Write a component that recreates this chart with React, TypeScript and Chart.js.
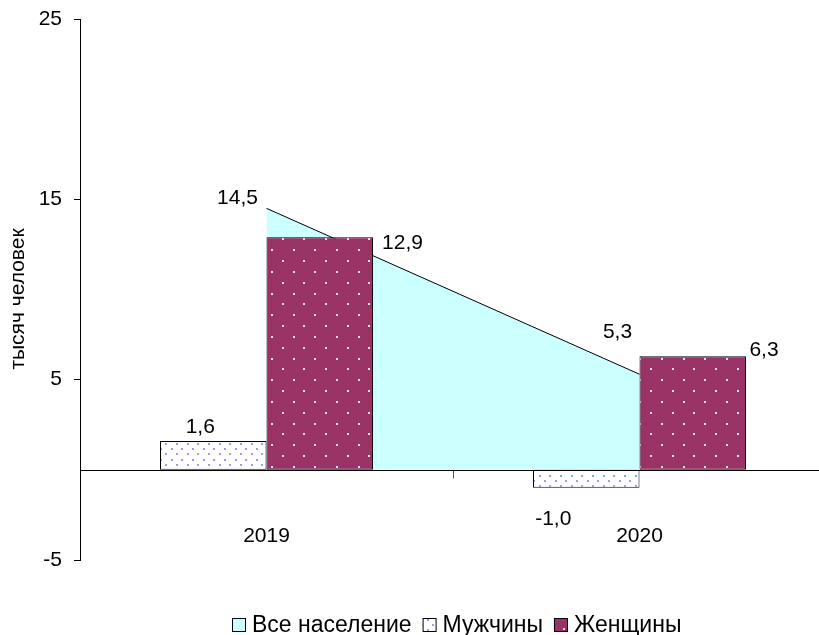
import React, { useEffect, useRef } from 'react';
import { Chart, registerables } from 'chart.js';

Chart.register(...registerables);

// ---- data ----
const categories = ['2019', '2020'];
const seriesNames = ['Все население', 'Мужчины', 'Женщины'];
const allPopulation = [14.5, 5.3];
const men = [1.6, -1.0];
const women = [12.9, 6.3];
const yMin = -5;
const yMax = 25;
const yStep = 10;
const yAxisTitle = 'тысяч человек';

const FONT = "'Liberation Sans', Arial, sans-serif";
const FONT_SIZE = 21;
const LEGEND_FONT_SIZE = 23;

const fmt = (v: number) => v.toFixed(1).replace('.', ',');

function makeDotPattern(bg: string, dot: string, period: number, dotSize: number) {
  const n = 3;
  const size = Math.round(period * n);
  const c = document.createElement('canvas');
  c.width = size;
  c.height = size;
  const g = c.getContext('2d')!;
  g.fillStyle = bg;
  g.fillRect(0, 0, size, size);
  g.fillStyle = dot;
  const p = size / n;
  for (let i = 0; i < n; i++) {
    for (let j = 0; j < n; j++) {
      g.fillRect(Math.round(i * p), Math.round(j * p), dotSize, dotSize);
      g.fillRect(Math.round(i * p + p / 2), Math.round(j * p + p / 2), dotSize, dotSize);
    }
  }
  return g.createPattern(c, 'repeat')!;
}

// label placement relative to each mark's anchor (dataset -> point -> [dx, dy])
const labelOffsets: number[][][] = [
  [[-29, -10], [-22, -42]],
  [[-13, -14], [-33, 31]],
  [[29.5, 6], [18, -6]],
];

const overlayPlugin = {
  id: 'overlay',
  afterDatasetsDraw(chart: any) {
    const { ctx, chartArea, scales } = chart;
    const x = scales.x;
    const y = scales.y;
    const y0 = Math.round(y.getPixelForValue(0)) + 0.5;
    ctx.save();
    ctx.strokeStyle = '#000';
    ctx.lineWidth = 1;
    ctx.beginPath();
    ctx.moveTo(chartArea.left, y0);
    ctx.lineTo(chartArea.right, y0);
    ctx.stroke();
    for (let i = 0; i < categories.length - 1; i++) {
      const xm = Math.round((x.getPixelForValue(i) + x.getPixelForValue(i + 1)) / 2) + 0.5;
      ctx.strokeStyle = '#555';
      ctx.beginPath();
      ctx.moveTo(xm, y0);
      ctx.lineTo(xm, y0 + 8);
      ctx.stroke();
    }
    ctx.fillStyle = '#000';
    ctx.font = `${FONT_SIZE}px ${FONT}`;
    ctx.textAlign = 'center';
    ctx.textBaseline = 'middle';
    categories.forEach((c, i) => ctx.fillText(c, x.getPixelForValue(i), y0 + 66));

    chart.data.datasets.forEach((ds: any, di: number) => {
      const meta = chart.getDatasetMeta(di);
      meta.data.forEach((el: any, j: number) => {
        const p = el.getProps(['x', 'y', 'width'], true);
        let ax = p.x;
        const ay = p.y;
        if (di === 2) ax = p.x + p.width / 2;
        const [dx, dy] = labelOffsets[di][j];
        ctx.fillText(fmt(ds.data[j]), ax + dx, ay + dy);
      });
    });

    ctx.translate(18, 299);
    ctx.rotate(-Math.PI / 2);
    ctx.fillText(yAxisTitle, 0, 0);
    ctx.restore();
  },
  afterDraw(chart: any) {
    // legend at the bottom, centred on the canvas
    const { ctx } = chart;
    const box = 14;
    const gap = 6;
    const spacing = 11;
    const cy = 625;
    ctx.save();
    ctx.font = `${LEGEND_FONT_SIZE}px ${FONT}`;
    ctx.textBaseline = 'middle';
    ctx.textAlign = 'left';
    const items = chart.data.datasets.map((ds: any) => ({
      text: ds.label,
      fill: ds.backgroundColor,
      w: ctx.measureText(ds.label).width,
    }));
    const total =
      items.reduce((s: number, it: any) => s + box + gap + it.w, 0) + spacing * (items.length - 1);
    let cx = Math.round(chart.width / 2 - total / 2);
    items.forEach((it: any) => {
      const top = Math.round(cy - box / 2);
      ctx.fillStyle = it.fill;
      ctx.fillRect(cx, top, box, box);
      ctx.strokeStyle = '#000';
      ctx.lineWidth = 1;
      ctx.strokeRect(cx + 0.5, top + 0.5, box - 1, box - 1);
      ctx.fillStyle = '#000';
      ctx.fillText(it.text, cx + box + gap, cy + 1);
      cx += box + gap + it.w + spacing;
    });
    ctx.restore();
  },
};

export default function App() {
  const ref = useRef<HTMLCanvasElement | null>(null);

  useEffect(() => {
    if (!ref.current) return;
    const menPattern = makeDotPattern('#ffffff', '#9999ff', 10.8, 2);
    const womenPattern = makeDotPattern('#993366', '#f3e4ec', 21.6, 2);

    const chart = new Chart(ref.current, {
      type: 'bar',
      data: {
        labels: categories,
        datasets: [
          {
            type: 'line',
            label: seriesNames[0],
            data: allPopulation,
            fill: 'origin',
            backgroundColor: '#ccffff',
            borderColor: '#000',
            borderWidth: 1,
            pointRadius: 0,
            tension: 0,
            order: 1,
          } as any,
          {
            type: 'bar',
            label: seriesNames[1],
            data: men,
            backgroundColor: menPattern,
            borderColor: '#000',
            borderWidth: 1,
            borderSkipped: false,
            categoryPercentage: 0.571,
            barPercentage: 1,
            order: 0,
          },
          {
            type: 'bar',
            label: seriesNames[2],
            data: women,
            backgroundColor: womenPattern,
            borderColor: '#000',
            borderWidth: 1,
            borderSkipped: false,
            categoryPercentage: 0.571,
            barPercentage: 1,
            order: 0,
          },
        ],
      },
      options: {
        animation: false,
        responsive: false,
        events: [],
        layout: { padding: { top: 19, left: 0, right: 88, bottom: 75 } },
        scales: {
          x: { display: false, offset: true },
          y: {
            min: yMin,
            max: yMax,
            ticks: {
              stepSize: yStep,
              color: '#000',
              font: { family: FONT, size: FONT_SIZE },
              padding: 12,
            },
            grid: { drawOnChartArea: false, color: '#000', tickLength: 6, lineWidth: 1 },
            border: { color: '#000', width: 1 },
            afterFit: (s: any) => {
              s.width = 80;
              s.paddingTop = 10;
              s.paddingBottom = 10;
            },
          },
        },
        plugins: {
          tooltip: { enabled: false },
          legend: { display: false },
        },
      },
      plugins: [overlayPlugin],
    });
    return () => chart.destroy();
  }, []);

  return (
    <div
      style={{
        position: 'fixed',
        left: 0,
        top: 0,
        width: '100vw',
        height: '100vh',
        overflow: 'hidden',
        background: '#fff',
      }}
    >
      <canvas ref={ref} width={914} height={635} style={{ display: 'block', width: 914, height: 635 }} />
    </div>
  );
}
